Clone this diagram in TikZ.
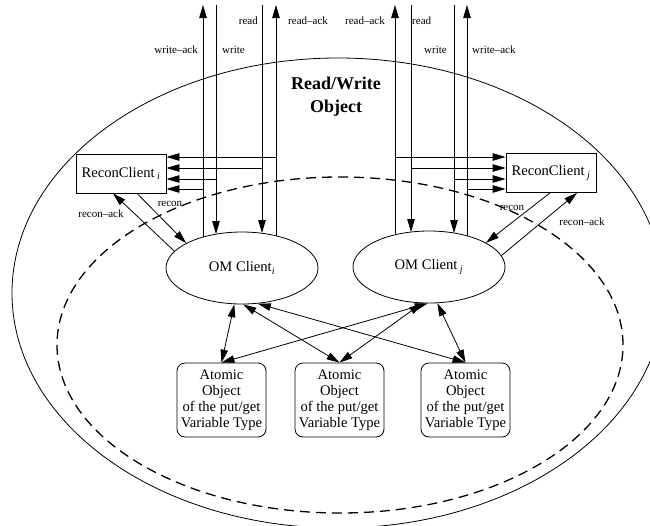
\documentclass[tikz,border=0pt]{standalone}
\usepackage{fontspec}
\setmainfont{Liberation Serif}
\usetikzlibrary{arrows.meta,shapes.geometric}

\begin{document}
\begin{tikzpicture}[x=1pt,y=-1pt]
  \tikzset{ReconStyle/.style = {
    shape         = rectangle,
    draw          = black,
    line width    = 0.8pt,
    minimum width = 90pt,
    minimum height= 39pt,
    inner sep     = 1pt,
    font          = \fontsize{14.6}{17}\selectfont
    }
  }
  \tikzset{ClientStyle/.style = {
    shape         = ellipse,
    draw          = black,
    line width    = 0.8pt,
    minimum width = 152pt,
    minimum height= 72pt,
    inner sep     = 1pt,
    font          = \fontsize{14.6}{17}\selectfont
    }
  }
  \tikzset{AtomStyle/.style = {
    shape         = rectangle,
    draw          = black,
    line width    = 0.8pt,
    rounded corners = 8pt,
    minimum width = 89pt,
    minimum height= 74pt,
    inner sep     = 1pt,
    align         = center,
    font          = \fontsize{14.6}{16}\selectfont
    }
  }
  \tikzset{SigStyle/.style = {
    draw          = black,
    line width    = 0.8pt,
    -{Triangle[length=13pt,width=7.5pt]}
    }
  }
  \tikzset{BothStyle/.style = {
    draw          = black,
    line width    = 0.8pt,
    {Triangle[length=13pt,width=7.5pt]}-{Triangle[length=13pt,width=7.5pt]}
    }
  }
  \tikzset{SigLabelStyle/.style = {
    inner sep     = 0pt,
    font          = \fontsize{11}{13}\selectfont
    }
  }

  \useasboundingbox (0,0) rectangle (650,525);

  % object boundary and the inner dashed region
  \draw[line width=0.8pt] (338,293) ellipse [x radius=326pt, y radius=235pt];
  \draw[line width=1.3pt, dash pattern=on 10pt off 6pt] (340,345) ellipse [x radius=283pt, y radius=168pt];

  \node[font=\fontsize{18}{23}\selectfont\bfseries, align=center] (Title) at (336,97) {Read/Write\\Object};

  \node[ReconStyle](RCi) at (121,173.5) {ReconClient\,\textsubscript{\itshape i}};
  \node[ReconStyle](RCj) at (551,173) {ReconClient\,\textsubscript{\itshape j}};
  \node[ClientStyle](OMi) at (242,268) {OM Client\textsubscript{\itshape i}};
  \node[ClientStyle](OMj) at (429,267) {OM Client\,\textsubscript{\itshape j}};
  \node[AtomStyle](A1) at (221.5,400) {Atomic\\Object\\of the put/get\\Variable Type};
  \node[AtomStyle](A2) at (339.5,400) {Atomic\\Object\\of the put/get\\Variable Type};
  \node[AtomStyle](A3) at (465.5,400) {Atomic\\Object\\of the put/get\\Variable Type};

  % signal ends, client i
  \coordinate (Ti-wa) at (203,5);
  \coordinate (Ti-w)  at (216,5);
  \coordinate (Ti-r)  at (262,5);
  \coordinate (Ti-ra) at (276,5);
  \coordinate (Bi-wa) at (203,237);
  \coordinate (Bi-w)  at (216,234);
  \coordinate (Bi-r)  at (262,233);
  \coordinate (Bi-ra) at (276,236);
  \coordinate (Ji-wa) at (203,189);
  \coordinate (Ji-w)  at (216,179);
  \coordinate (Ji-r)  at (262,168);
  \coordinate (Ji-ra) at (276,157);
  % signal ends, client j
  \coordinate (Tj-ra) at (395,5);
  \coordinate (Tj-r)  at (411,5);
  \coordinate (Tj-w)  at (454,5);
  \coordinate (Tj-wa) at (467,5);
  \coordinate (Bj-ra) at (395,235);
  \coordinate (Bj-r)  at (411,232);
  \coordinate (Bj-w)  at (454,233);
  \coordinate (Bj-wa) at (467,236);
  \coordinate (Jj-ra) at (395,157);
  \coordinate (Jj-r)  at (411,168);
  \coordinate (Jj-w)  at (454,179);
  \coordinate (Jj-wa) at (467,189);

  \draw[SigStyle](Bi-wa) -- (Ti-wa);
  \draw[SigStyle](Ti-w) -- (Bi-w);
  \draw[SigStyle](Ti-r) -- (Bi-r);
  \draw[SigStyle](Bi-ra) -- (Ti-ra);
  \draw[SigStyle](Ji-ra) -- (Ji-ra -| RCi.east);
  \draw[SigStyle](Ji-r) -- (Ji-r -| RCi.east);
  \draw[SigStyle](Ji-w) -- (Ji-w -| RCi.east);
  \draw[SigStyle](Ji-wa) -- (Ji-wa -| RCi.east);

  \draw[SigStyle](Bj-ra) -- (Tj-ra);
  \draw[SigStyle](Tj-r) -- (Bj-r);
  \draw[SigStyle](Tj-w) -- (Bj-w);
  \draw[SigStyle](Bj-wa) -- (Tj-wa);
  \draw[SigStyle](Jj-ra) -- (Jj-ra -| RCj.west);
  \draw[SigStyle](Jj-r) -- (Jj-r -| RCj.west);
  \draw[SigStyle](Jj-w) -- (Jj-w -| RCj.west);
  \draw[SigStyle](Jj-wa) -- (Jj-wa -| RCj.west);

  \node[SigLabelStyle, anchor=east](Li-wa) at (198,50) {write--ack};
  \node[SigLabelStyle, anchor=west](Li-w)  at (222,50) {write};
  \node[SigLabelStyle, anchor=east](Li-r)  at (258,21) {read};
  \node[SigLabelStyle, anchor=west](Li-ra) at (288,21) {read--ack};
  \node[SigLabelStyle, anchor=east](Lj-ra) at (385,21) {read--ack};
  \node[SigLabelStyle, anchor=west](Lj-r)  at (412,21) {read};
  \node[SigLabelStyle, anchor=east](Lj-w)  at (447,50) {write};
  \node[SigLabelStyle, anchor=west](Lj-wa) at (472,50) {write--ack};

  % recon traffic
  \draw[SigStyle]([xshift=16pt]RCi.south) -- (OMi.156);
  \draw[SigStyle](OMi.166) -- ([xshift=-8pt]RCi.south);
  \draw[SigStyle]([xshift=-1pt]RCj.south) -- (OMj.23);
  \draw[SigStyle](OMj.9) -- ([xshift=26pt]RCj.south);
  \node[SigLabelStyle](Ri)  at (170,204) {recon};
  \node[SigLabelStyle](RAi) at (101,214) {recon--ack};
  \node[SigLabelStyle](Rj)  at (512,208) {recon};
  \node[SigLabelStyle](RAj) at (582,222) {recon--ack};

  % clients to atomic objects
  \draw[BothStyle](OMi.258) -- (A1.north);
  \draw[BothStyle](OMi.272) -- (A2.north);
  \draw[BothStyle](OMi.294) -- (A3.north);
  \draw[BothStyle](OMj.268) -- (A1.north);
  \draw[BothStyle](OMj.259) -- (A2.north);
  \draw[BothStyle](OMj.283) -- (A3.north);

\end{tikzpicture}
\end{document}
